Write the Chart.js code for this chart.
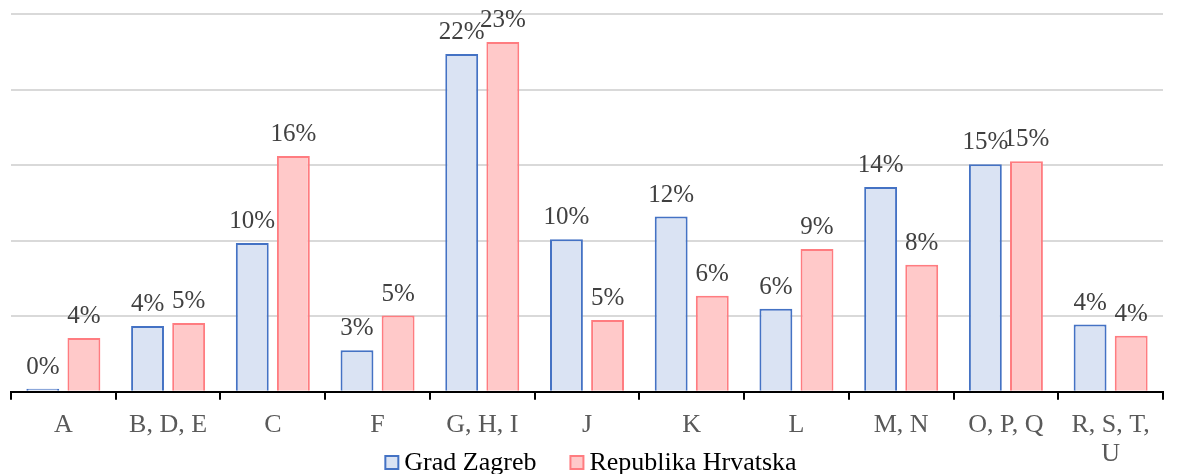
<!DOCTYPE html>
<html>
<head>
<meta charset="utf-8">
<script src="https://cdn.jsdelivr.net/npm/chart.js@4"></script>
<style>
  html, body { margin: 0; padding: 0; background: #fff; overflow: hidden; }
  #wrap { width: 1182px; height: 474px; position: relative; }
</style>
</head>
<body>
<div id="wrap"><canvas id="myChart"></canvas></div>
<script>
const categories = ["A", "B, D, E", "C", "F", "G, H, I", "J", "K", "L", "M, N", "O, P, Q", ["R, S, T,", "U"]];
const zagrebValues = [0.2, 4.35, 9.85, 2.75, 22.35, 10.1, 11.6, 5.5, 13.55, 15.05, 4.45];
const hrvatskaValues = [3.55, 4.55, 15.6, 5.05, 23.15, 4.75, 6.35, 9.45, 8.4, 15.25, 3.7];
const zagrebLabels = ["0%", "4%", "10%", "3%", "22%", "10%", "12%", "6%", "14%", "15%", "4%"];
const hrvatskaLabels = ["4%", "5%", "16%", "5%", "23%", "5%", "6%", "9%", "8%", "15%", "4%"];
const seriesNames = ["Grad Zagreb", "Republika Hrvatska"];

const serif = '"Liberation Serif", "Times New Roman", serif';

// draws the percentage above each bar
const barLabels = {
  id: 'barLabels',
  afterDatasetsDraw(chart) {
    const ctx = chart.ctx;
    const texts = [zagrebLabels, hrvatskaLabels];
    ctx.save();
    ctx.font = '25px ' + serif;
    ctx.fillStyle = '#404040';
    ctx.textAlign = 'center';
    ctx.textBaseline = 'bottom';
    chart.data.datasets.forEach((ds, i) => {
      chart.getDatasetMeta(i).data.forEach((bar, j) => {
        ctx.fillText(texts[i][j], bar.x, bar.y - 9);
      });
    });
    ctx.restore();
  }
};

// legend sits low, next to the wrapped last label, like the original
const bottomLegend = {
  id: 'bottomLegend',
  afterDraw(chart) {
    const ctx = chart.ctx;
    const y = 463;
    ctx.save();
    ctx.font = '26px ' + serif;
    ctx.textBaseline = 'middle';
    const gap = 34, box = 13, boxGap = 6;
    const widths = chart.data.datasets.map(ds => box + boxGap + ctx.measureText(ds.label).width);
    const total = widths.reduce((a, b) => a + b, 0) + gap;
    let x = (chart.width - total) / 2;
    chart.data.datasets.forEach((ds, i) => {
      ctx.fillStyle = ds.backgroundColor;
      ctx.strokeStyle = ds.borderColor;
      ctx.lineWidth = 2;
      ctx.fillRect(x, y - 7, box, box);
      ctx.strokeRect(x, y - 7, box, box);
      ctx.fillStyle = '#000';
      ctx.fillText(ds.label, x + box + boxGap, y);
      x += widths[i] + gap;
    });
    ctx.restore();
  }
};

new Chart("myChart", {
  type: "bar",
  data: {
    labels: categories,
    datasets: [{
      label: seriesNames[0],
      data: zagrebValues,
      backgroundColor: "#dae3f3",
      borderColor: "#4472c4",
      borderWidth: 2
    }, {
      label: seriesNames[1],
      data: hrvatskaValues,
      backgroundColor: "#ffc9c9",
      borderColor: "#ff7c80",
      borderWidth: 2
    }]
  },
  options: {
    responsive: true,
    maintainAspectRatio: false,
    animation: false,
    layout: { padding: { left: 11, right: 19, top: 14, bottom: -6 } },
    datasets: { bar: { categoryPercentage: 0.785, barPercentage: 0.8 } },
    plugins: {
      legend: { display: false },
      tooltip: { enabled: false }
    },
    scales: {
      x: {
        grid: { display: true, drawOnChartArea: false, drawTicks: true, tickLength: 8, color: '#000', lineWidth: 2 },
        border: { color: '#000', width: 2 },
        ticks: { color: '#595959', font: { size: 26, family: serif, lineHeight: 1.12 }, maxRotation: 0, autoSkip: false, padding: 11 }
      },
      y: {
        min: 0,
        max: 25,
        ticks: { display: false, stepSize: 5 },
        grid: { color: '#d9d9d9', lineWidth: 2, drawTicks: false },
        border: { display: false }
      }
    }
  },
  plugins: [barLabels, bottomLegend]
});
</script>
</body>
</html>
